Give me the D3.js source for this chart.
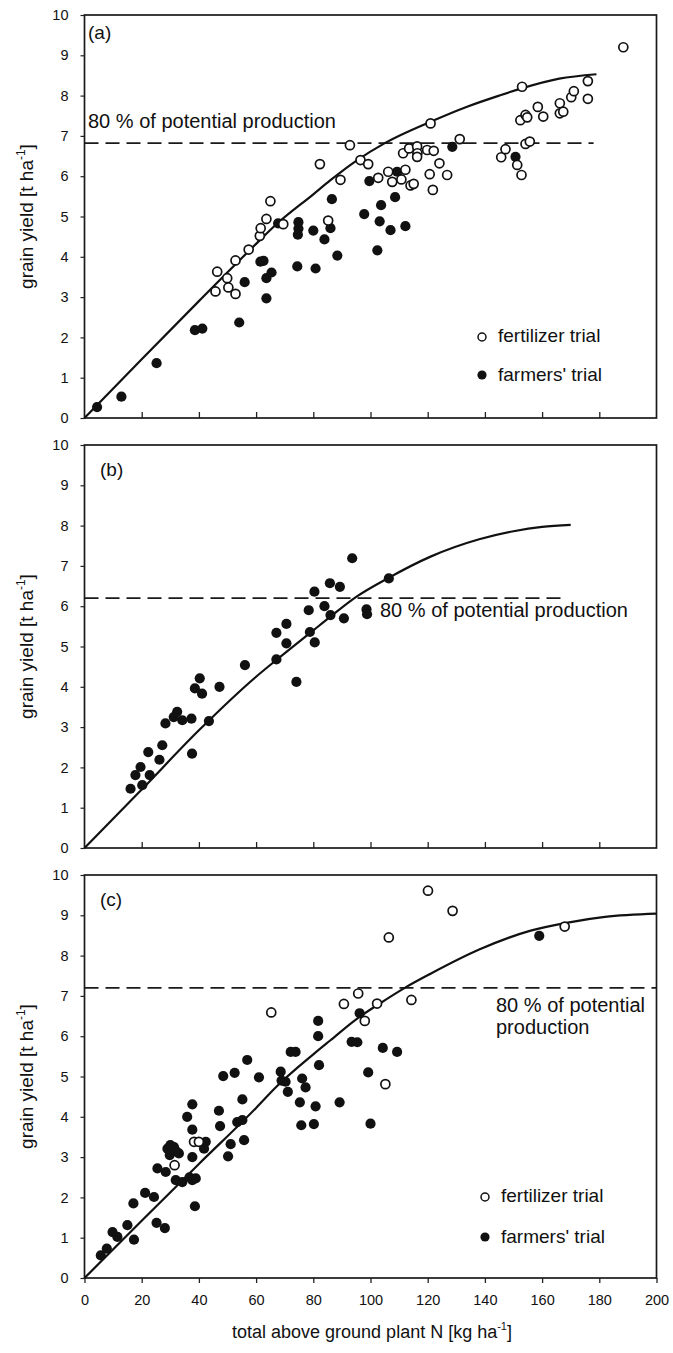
<!DOCTYPE html>
<html><head><meta charset="utf-8">
<script src="https://cdn.jsdelivr.net/npm/d3@7"></script>
<style>
body{margin:0;background:#fff}
text{font-family:"Liberation Sans",Arial,Helvetica,sans-serif;fill:#111}
</style>
</head><body><svg id="chart" width="673" height="1353"></svg>
<script>
// ---------- data ----------
const panelNames = ["(a)", "(b)", "(c)"];
const xTickValues = [0, 20, 40, 60, 80, 100, 120, 140, 160, 180, 200];
const yTickValues = [0, 1, 2, 3, 4, 5, 6, 7, 8, 9, 10];
const xTitle = "total above ground plant N [kg ha";
const yTitle = "grain yield [t ha";
const legendLabels = ["fertilizer trial", "farmers' trial"];
const thresholdText = "80 % of potential production";

// 80 % of potential production (y) and where the dashed line stops (x)
const thresholdY = [6.82, 6.2, 7.2];
const thresholdEnd = [178, 168, 200];

// fitted response curves [N, yield]
const curveA = [[0,0],[20,1.46],[40,2.9],[60,4.32],[67,4.8],[80,5.55],[86,5.9],[95,6.38],[105,6.82],[121,7.35],[134,7.73],[145,8.0],[152,8.16],[166,8.42],[179,8.53]];
const curveB = [[0,0],[20,1.45],[40,2.92],[60,4.25],[67,4.66],[80,5.4],[86,5.74],[95,6.23],[106,6.69],[121,7.23],[138,7.66],[150,7.86],[160,7.97],[170,8.02]];
const curveC = [[0,0],[20,1.42],[40,2.83],[60,4.22],[67,4.74],[80,5.55],[86,5.9],[95,6.42],[103,6.8],[112,7.2],[121,7.55],[138,8.15],[156,8.62],[169,8.82],[182,8.96],[200,9.04]];

// panel (a)
const fertA = [[45.8,3.14],[46.4,3.63],[49.9,3.47],[50.3,3.24],[52.8,3.08],[52.8,3.91],[57.4,4.18],[61.3,4.52],[61.6,4.71],[63.6,4.94],[65.0,5.38],[69.5,4.81],[82.3,6.30],[85.2,4.90],[89.5,5.91],[92.8,6.77],[96.5,6.40],[99.2,6.30],[102.7,5.96],[106.2,6.11],[107.6,5.86],[110.8,5.92],[112.2,6.16],[114.0,5.77],[115.1,5.81],[111.4,6.57],[113.5,6.69],[116.3,6.74],[116.4,6.57],[119.8,6.65],[122.1,6.63],[116.3,6.48],[124.1,6.32],[120.7,6.05],[126.8,6.03],[121.8,5.66],[121.0,7.31],[131.2,6.92],[145.7,6.47],[147.2,6.67],[151.3,6.28],[152.8,6.03],[154.2,6.80],[155.7,6.86],[152.4,7.39],[154.2,7.52],[154.8,7.46],[153.0,8.22],[158.5,7.72],[160.4,7.48],[166.2,7.81],[166.2,7.56],[167.4,7.60],[170.2,7.96],[171.1,8.11],[176.0,8.36],[176.0,7.92],[188.4,9.20]];
const farmA = [[4.4,0.27],[12.9,0.53],[25.2,1.36],[38.6,2.18],[41.2,2.22],[54.1,2.37],[56.0,3.37],[61.5,3.88],[62.6,3.90],[63.6,3.47],[65.4,3.61],[63.6,2.97],[67.7,4.83],[74.4,3.76],[80.8,3.71],[74.6,4.55],[74.8,4.70],[74.8,4.86],[80.0,4.65],[83.9,4.43],[86.0,4.71],[86.5,5.43],[88.4,4.03],[97.8,5.06],[99.6,5.88],[102.4,4.16],[103.2,4.88],[103.7,5.28],[107.0,4.66],[108.6,5.48],[109.3,6.11],[112.2,4.76],[128.6,6.73],[150.7,6.48]];

// panel (b)
const fertB = [];
const farmB = [[16.1,1.47],[17.8,1.81],[19.6,2.01],[20.2,1.56],[22.8,1.81],[22.3,2.38],[26.2,2.19],[27.2,2.55],[28.3,3.09],[31.2,3.25],[32.4,3.38],[34.2,3.17],[37.4,3.21],[37.6,2.34],[38.6,3.96],[40.3,4.21],[41.1,3.83],[43.5,3.15],[47.2,4.00],[56.1,4.54],[67.1,5.34],[67.1,4.68],[70.6,5.56],[70.6,5.08],[74.1,4.12],[78.4,5.90],[78.8,5.36],[80.4,6.36],[80.5,5.10],[83.9,6.00],[85.8,6.57],[86.0,5.78],[89.3,6.48],[90.7,5.70],[93.6,7.19],[98.6,5.92],[98.8,5.80],[106.4,6.69]];

// panel (c)
const fertC = [[31.5,2.80],[38.3,3.38],[40.0,3.38],[65.3,6.59],[90.7,6.80],[95.7,7.06],[98.0,6.38],[102.3,6.81],[105.2,4.81],[106.4,8.45],[114.3,6.90],[120.1,9.61],[128.7,9.11],[167.9,8.72]];
const farmC = [[5.7,0.56],[7.8,0.73],[9.8,1.14],[11.5,1.02],[15.0,1.31],[17.3,0.95],[17.1,1.85],[21.2,2.11],[24.3,2.01],[25.2,1.37],[28.1,1.24],[25.5,2.72],[28.4,2.63],[29.0,3.21],[31.3,3.25],[33.0,3.09],[30.0,3.30],[32.0,3.15],[29.8,3.05],[31.9,2.43],[34.2,2.38],[36.7,2.50],[37.7,2.43],[38.9,2.47],[37.7,3.0],[35.9,4.0],[37.7,4.31],[37.7,3.68],[38.6,1.78],[42.4,3.38],[41.8,3.21],[47.0,4.15],[47.4,3.77],[51.1,3.32],[50.2,3.02],[48.5,5.01],[52.5,5.09],[56.9,5.41],[55.2,4.43],[53.4,3.87],[55.2,3.92],[55.8,3.42],[61.0,4.98],[68.6,5.12],[68.9,4.90],[70.3,4.87],[71.1,4.62],[72.1,5.61],[73.8,5.61],[76.1,4.95],[77.3,4.73],[75.3,4.36],[75.8,3.79],[80.2,3.82],[80.8,4.26],[81.7,6.38],[81.7,6.0],[82.0,5.28],[89.2,4.36],[93.4,5.86],[95.4,5.85],[96.2,6.57],[99.2,5.10],[100.0,3.83],[104.3,5.71],[109.3,5.61],[159.0,8.49]];

// ---------- layout ----------
const panels = [
  {top: 15,  bottom: 418, curve: curveA, fert: fertA, farm: farmA, legend: true, labelXY: [88, 39],
   textPos: {x: 88, y: 128, lines: [thresholdText]}, legendXY: [482, 337], legendGap: 38, xLabels: false},
  {top: 445, bottom: 848, curve: curveB, fert: fertB, farm: farmB, legend: false, labelXY: [100, 476],
   textPos: {x: 380, y: 617, lines: [thresholdText]}, xLabels: false},
  {top: 875, bottom: 1278, curve: curveC, fert: fertC, farm: farmC, legend: true, labelXY: [100, 906],
   textPos: {x: 496, y: 1012, lines: ["80 % of potential", "production"]}, legendXY: [485, 1197], legendGap: 40, xLabels: true}
];
const left = 84.5, right = 656.5;
const svg = d3.select("#chart");
const x = d3.scaleLinear().domain([0, 200]).range([left, right]);
const FONT = '"Liberation Sans",Arial,sans-serif';

panels.forEach((p, i) => {
  const y = d3.scaleLinear().domain([0, 10]).range([p.bottom, p.top]);
  const g = svg.append("g");

  // y axis
  const ya = g.append("g").attr("transform", `translate(${left},0)`)
    .call(d3.axisLeft(y).tickValues(yTickValues).tickSize(4).tickPadding(12).tickFormat(d3.format("d")));
  ya.select(".domain").remove();
  ya.selectAll("text").attr("font-size", 14.5).style("font-family", FONT).attr("fill", "#111");
  ya.selectAll("line").attr("stroke", "#222").attr("stroke-width", 1.2);

  // x axis
  const xa = g.append("g").attr("transform", `translate(0,${p.bottom})`);
  if (p.xLabels) {
    xa.call(d3.axisBottom(x).tickValues(xTickValues).tickSize(5).tickPadding(12).tickFormat(d3.format("d")));
    xa.selectAll("text").attr("font-size", 14.5).style("font-family", FONT).attr("fill", "#111");
  } else {
    xa.call(d3.axisBottom(x).tickValues(xTickValues.slice(1, -1)).tickSizeInner(-6).tickSizeOuter(0).tickFormat(""));
  }
  xa.select(".domain").remove();
  xa.selectAll("line").attr("stroke", "#222").attr("stroke-width", 1.3);

  // frame
  g.append("rect").attr("x", left).attr("y", p.top).attr("width", right - left).attr("height", p.bottom - p.top)
    .attr("fill", "none").attr("stroke", "#1a1a1a").attr("stroke-width", 1.7);

  // y title
  const yt = g.append("text")
    .attr("transform", `translate(33,${(p.top + p.bottom) / 2}) rotate(-90)`)
    .attr("text-anchor", "middle").attr("font-size", 19);
  yt.append("tspan").text(yTitle);
  yt.append("tspan").attr("font-size", 12).attr("dy", -8).text("-1");
  yt.append("tspan").attr("dy", 8).text("]");

  // panel label
  g.append("text").attr("x", p.labelXY[0]).attr("y", p.labelXY[1]).attr("font-size", 19).text(panelNames[i]);

  // threshold dashed line
  g.append("line")
    .attr("x1", x(0)).attr("x2", x(thresholdEnd[i]))
    .attr("y1", y(thresholdY[i])).attr("y2", y(thresholdY[i]))
    .attr("stroke", "#1a1a1a").attr("stroke-width", 1.7).attr("stroke-dasharray", "14,7");
  p.textPos.lines.forEach((t, k) => {
    g.append("text").attr("x", p.textPos.x).attr("y", p.textPos.y + k * 22).attr("font-size", 20).text(t);
  });

  // fitted curve
  g.append("path").datum(p.curve)
    .attr("d", d3.line().x(d => x(d[0])).y(d => y(d[1])).curve(d3.curveMonotoneX))
    .attr("fill", "none").attr("stroke", "#111").attr("stroke-width", 2.2);

  // points
  g.append("g").selectAll("circle").data(p.farm).join("circle")
    .attr("cx", d => x(d[0])).attr("cy", d => y(d[1])).attr("r", 5.1).attr("fill", "#111");
  g.append("g").selectAll("circle").data(p.fert).join("circle")
    .attr("cx", d => x(d[0])).attr("cy", d => y(d[1])).attr("r", 4.5)
    .attr("fill", "#fff").attr("stroke", "#111").attr("stroke-width", 1.7);

  // legend
  if (p.legend) {
    const [lx, ly] = p.legendXY;
    g.append("circle").attr("cx", lx).attr("cy", ly).attr("r", 4).attr("fill", "#fff").attr("stroke", "#111").attr("stroke-width", 1.5);
    g.append("text").attr("x", lx + 16).attr("y", ly + 5).attr("font-size", 19).text(legendLabels[0]);
    g.append("circle").attr("cx", lx).attr("cy", ly + p.legendGap).attr("r", 4.6).attr("fill", "#111");
    g.append("text").attr("x", lx + 16).attr("y", ly + p.legendGap + 6).attr("font-size", 19).text(legendLabels[1]);
  }
});

// x title
const xt = svg.append("text").attr("x", 372).attr("y", 1338).attr("text-anchor", "middle").attr("font-size", 18);
xt.append("tspan").text(xTitle);
xt.append("tspan").attr("font-size", 11).attr("dy", -8).text("-1");
xt.append("tspan").attr("dy", 8).text("]");
</script>
</body></html>
